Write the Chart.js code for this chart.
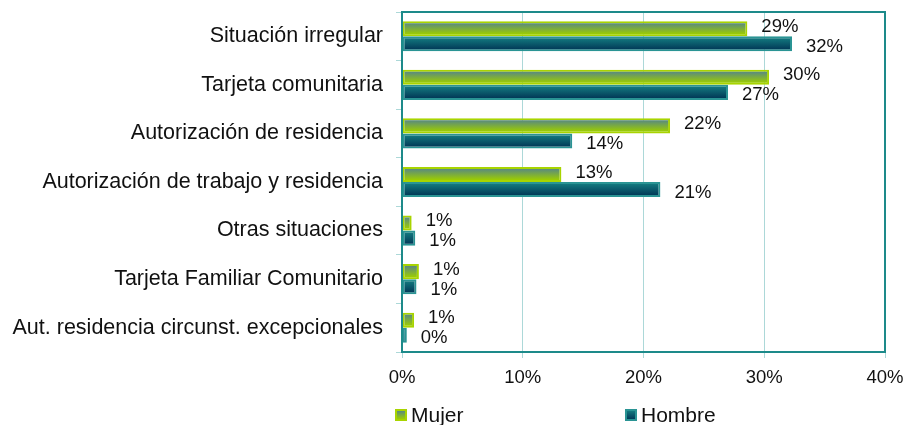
<!DOCTYPE html>
<html>
<head>
<meta charset="utf-8">
<script src="https://cdn.jsdelivr.net/npm/chart.js@4/dist/chart.umd.min.js"></script>
<style>
  html, body { margin: 0; padding: 0; background: #fff; }
  #wrap { width: 905px; height: 425px; position: relative; }
</style>
</head>
<body>
<div id="wrap"><canvas id="chart"></canvas></div>
<script>
const categories = [
  "Situación irregular",
  "Tarjeta comunitaria",
  "Autorización de residencia",
  "Autorización de trabajo y residencia",
  "Otras situaciones",
  "Tarjeta Familiar Comunitario",
  "Aut. residencia circunst. excepcionales",
];
const mujer = [28.6, 30.4, 22.2, 13.2, 0.8, 1.4, 1.0];
const hombre = [32.3, 27.0, 14.1, 21.4, 1.1, 1.2, 0.4];
const xTicks = [0, 10, 20, 30, 40];

const FONT = "'Liberation Sans', Arial, sans-serif";
const TEAL = "#1d8a8a";
const GRID = "#acd8d8";

const styles = [
  { top: "#5a8a80", bottom: "#9ccd00", border: "#a8d400" },
  { top: "#13787e", bottom: "#023a58", border: "#2a9494" },
];

function grad(ctx, y0, y1, s) {
  const g = ctx.createLinearGradient(0, y0, 0, y1);
  g.addColorStop(0, s.top);
  g.addColorStop(1, s.bottom);
  return g;
}

// vertical gradient per bar, set from the bar's own geometry
const barGradient = {
  id: "barGradient",
  beforeDatasetsDraw(chart) {
    chart.data.datasets.forEach((ds, di) => {
      chart.getDatasetMeta(di).data.forEach((el) => {
        el.options.backgroundColor = grad(chart.ctx, el.y - el.height / 2 + 2, el.y + el.height / 2 - 2, styles[di]);
      });
    });
  },
};

const valueLabels = {
  id: "valueLabels",
  afterDatasetsDraw(chart) {
    const ctx = chart.ctx;
    ctx.save();
    ctx.font = "18.5px " + FONT;
    ctx.fillStyle = "#111";
    ctx.textBaseline = "middle";
    ctx.textAlign = "left";
    chart.data.datasets.forEach((ds, di) => {
      chart.getDatasetMeta(di).data.forEach((el, i) => {
        const dy = di === 0 ? -2 : 3;
        ctx.fillText(Math.round(ds.data[i]) + "%", el.x + 14, el.y + dy);
      });
    });
    ctx.restore();
  },
};

const frame = {
  id: "frame",
  afterDraw(chart) {
    const { left, top, right, bottom } = chart.chartArea;
    const ctx = chart.ctx;
    ctx.save();
    ctx.strokeStyle = TEAL;
    ctx.lineWidth = 2;
    ctx.strokeRect(left, top, right - left, bottom - top);
    ctx.restore();
  },
};

const legendBoxes = {
  id: "legendBoxes",
  afterDraw(chart) {
    const ctx = chart.ctx;
    const xs = [395, 625];
    const y = 415;
    ctx.save();
    ctx.font = "21px " + FONT;
    ctx.textBaseline = "middle";
    chart.data.datasets.forEach((ds, di) => {
      const s = styles[di];
      const x = xs[di];
      ctx.fillStyle = s.border;
      ctx.fillRect(x, y - 6, 12, 12);
      ctx.fillStyle = grad(ctx, y - 4, y + 4, s);
      ctx.fillRect(x + 2, y - 4, 8, 8);
      ctx.fillStyle = "#111";
      ctx.fillText(ds.label, x + 16, y + 1);
    });
    ctx.restore();
  },
};

new Chart(document.getElementById("chart"), {
  type: "bar",
  data: {
    labels: categories,
    datasets: [
      { label: "Mujer", data: mujer, borderColor: styles[0].border, backgroundColor: () => styles[0].bottom },
      { label: "Hombre", data: hombre, borderColor: styles[1].border, backgroundColor: () => styles[1].bottom },
    ],
  },
  options: {
    indexAxis: "y",
    responsive: true,
    maintainAspectRatio: false,
    animation: false,
    layout: { padding: { left: 0, top: 12, right: 20, bottom: 40 } },
    datasets: {
      bar: { borderWidth: 2, borderSkipped: false, categoryPercentage: 0.62, barPercentage: 1 },
    },
    plugins: { legend: { display: false }, tooltip: { enabled: false } },
    scales: {
      x: {
        min: 0,
        max: 40,
        afterBuildTicks(scale) {
          scale.ticks = xTicks.map((v) => ({ value: v }));
        },
        afterFit(scale) {
          scale.height = 33;
          scale.paddingLeft = 0;
          scale.paddingRight = 0;
        },
        grid: { color: GRID, lineWidth: 1, tickLength: 6 },
        border: { color: TEAL, width: 2 },
        ticks: {
          color: "#111",
          padding: 9,
          font: { family: FONT, size: 18.5 },
          callback: (v) => v + "%",
        },
      },
      y: {
        afterFit(scale) {
          scale.width = 402;
          scale.paddingTop = 0;
          scale.paddingBottom = 0;
        },
        grid: { drawOnChartArea: false, color: GRID, tickLength: 6 },
        border: { color: TEAL, width: 2 },
        ticks: {
          color: "#111",
          padding: 13,
          font: { family: FONT, size: 21.5 },
        },
      },
    },
  },
  plugins: [barGradient, valueLabels, frame, legendBoxes],
});
</script>
</body>
</html>
